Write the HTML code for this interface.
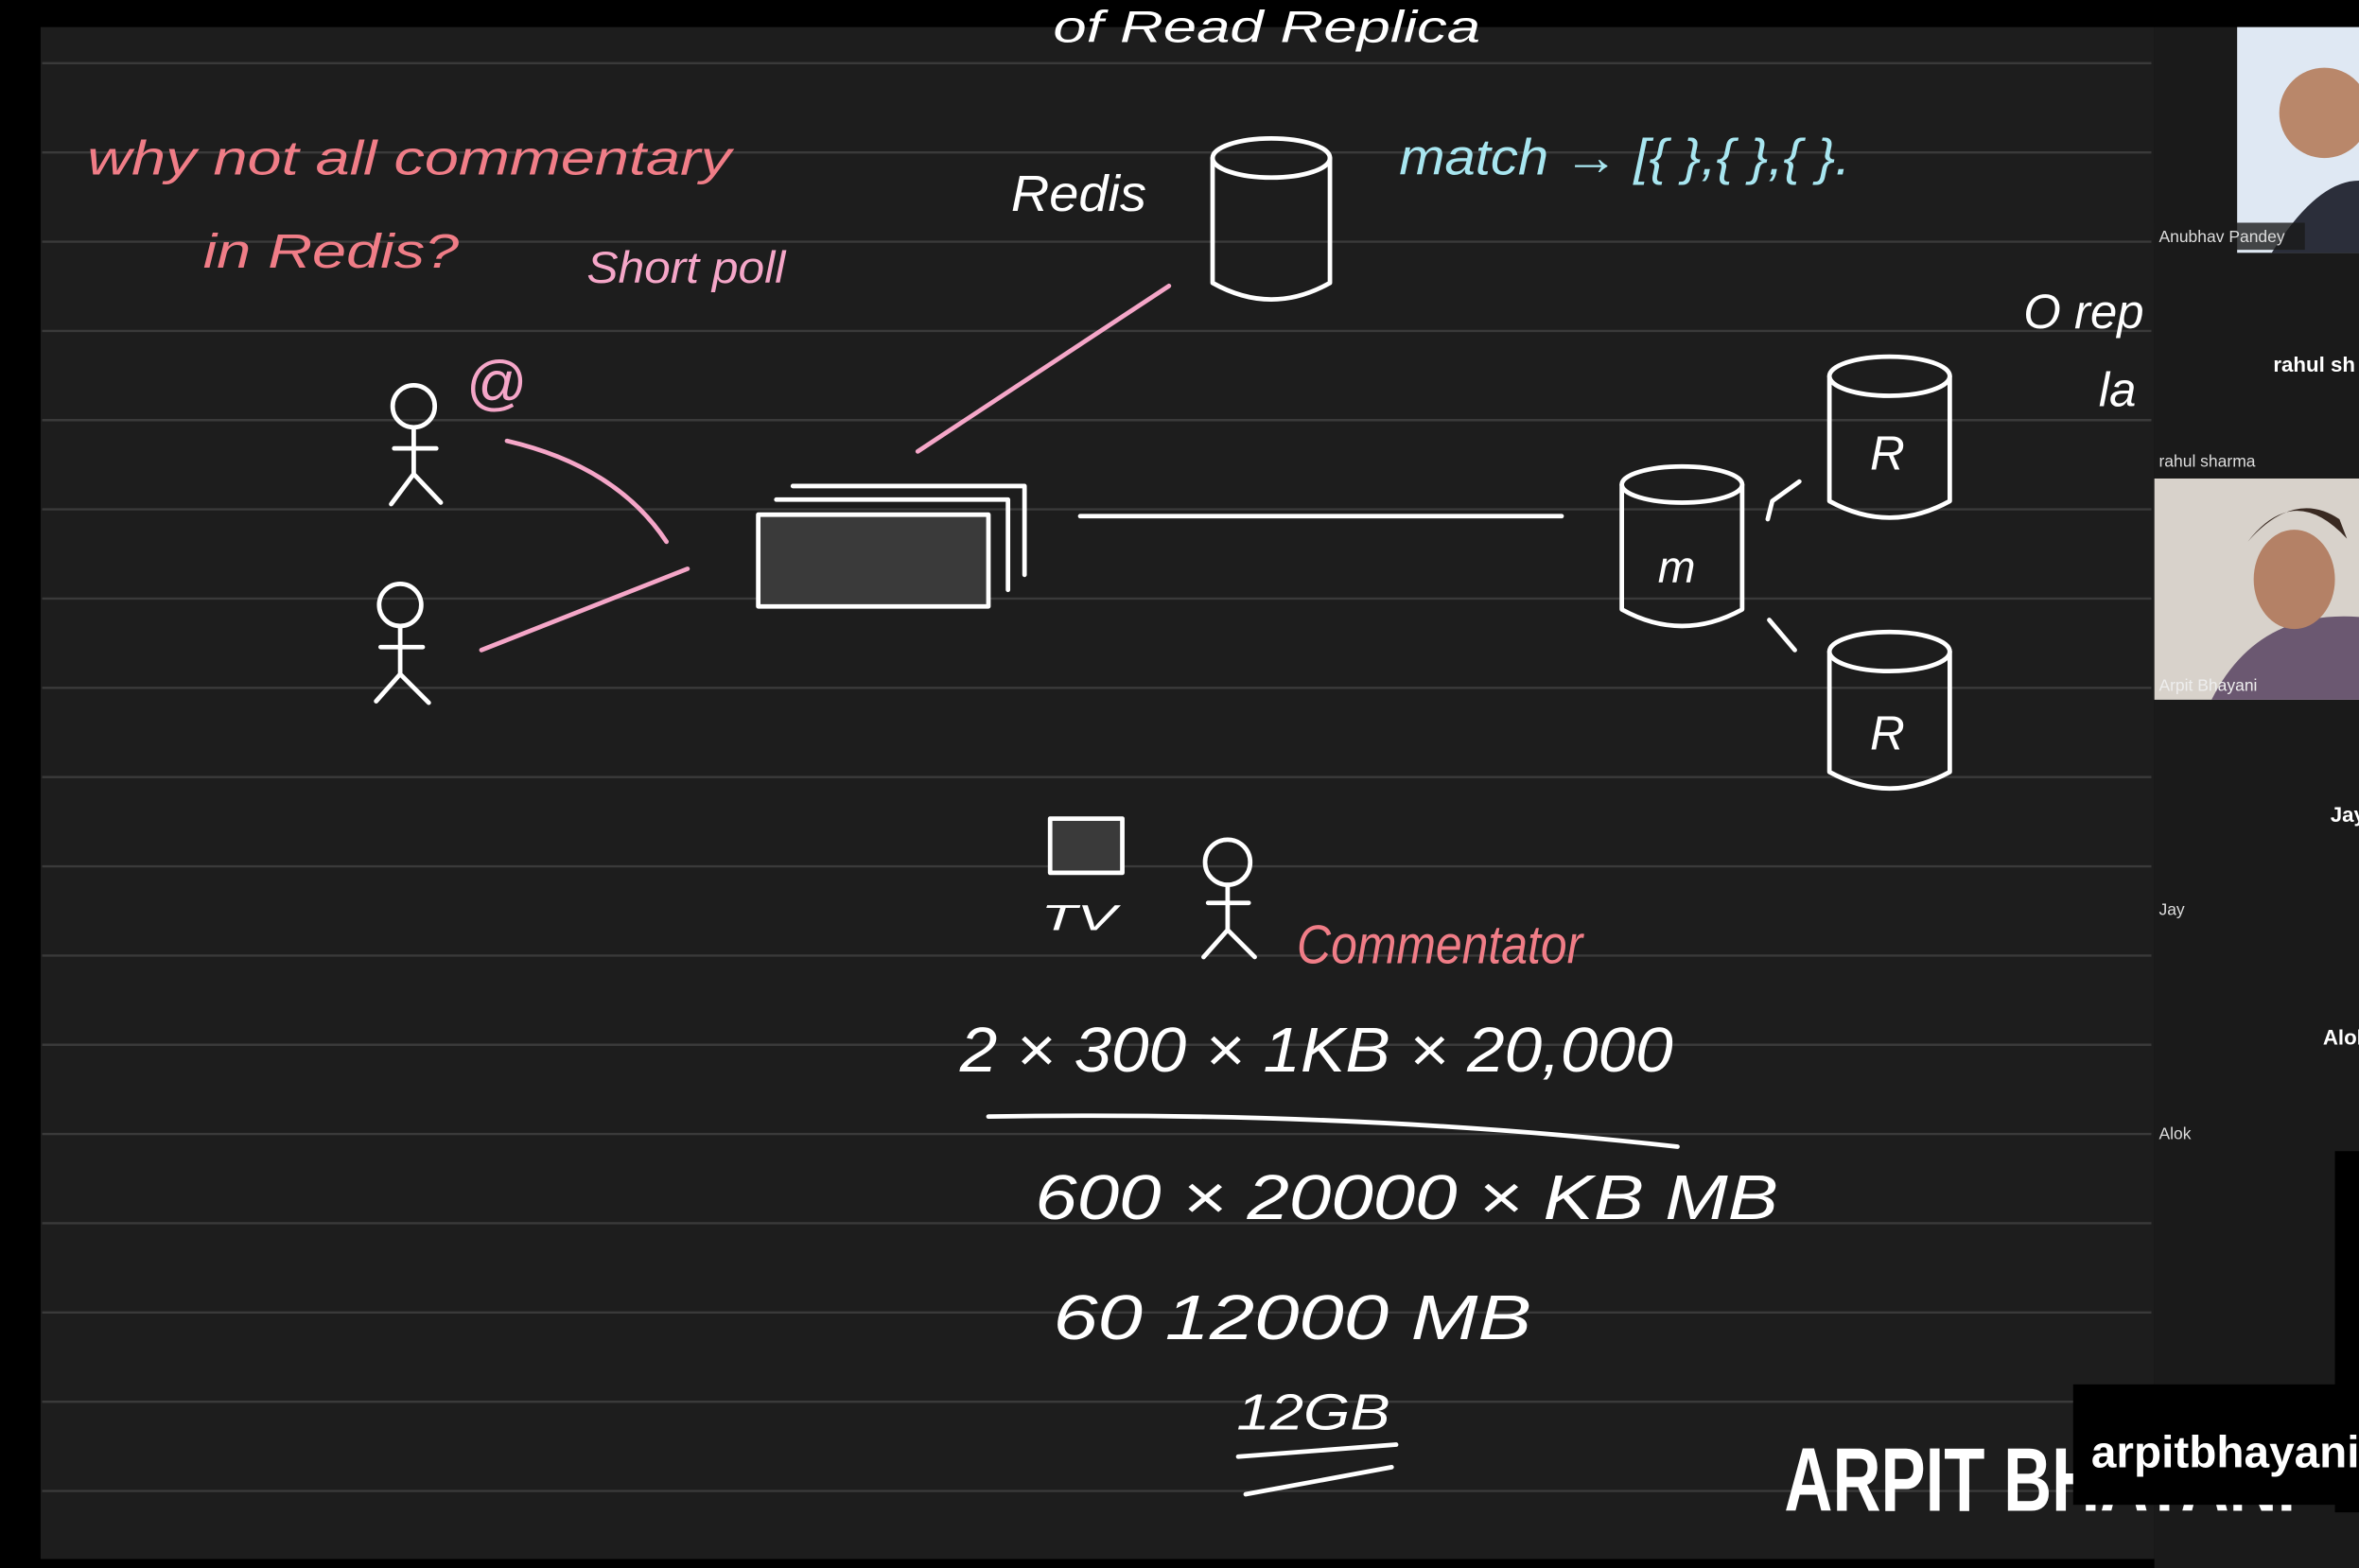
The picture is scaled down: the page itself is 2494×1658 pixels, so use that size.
<!DOCTYPE html>
<html><head><meta charset="utf-8"><style>
html,body{margin:0;padding:0;background:#000;}
svg{display:block;}
text{font-family:"Liberation Sans",sans-serif;}
</style></head><body>
<svg width="2494" height="1658" viewBox="0 0 1568 1042" preserveAspectRatio="none" xmlns="http://www.w3.org/2000/svg">
<rect width="1568" height="1042" fill="#000"/>
<rect x="27" y="18" width="1405" height="1018" fill="#1d1d1d"/>
<g id="rules" stroke="#3a3a3a" stroke-width="1.5"></g>
<script>
var g=document.getElementById('rules');
for(var y=42;y<1000;y+=59.3){var l=document.createElementNS('http://www.w3.org/2000/svg','line');


l.setAttribute('x1',28);l.setAttribute('x2',1430);l.setAttribute('y1',y);l.setAttribute('y2',y);g.appendChild(l);}
</script>
<g fill="none" stroke-linecap="round" stroke-linejoin="round">
<text x="58" y="116" fill="#f07d87" font-size="32" font-style="italic" font-family="Liberation Serif" textLength="428" lengthAdjust="spacingAndGlyphs">why not all commentary</text>
<text x="135" y="178" fill="#f07d87" font-size="32" font-style="italic" font-family="Liberation Serif" textLength="170" lengthAdjust="spacingAndGlyphs">in Redis?</text>
<text x="390" y="188" fill="#f5a6c8" font-size="30" font-style="italic" font-family="Liberation Serif" textLength="132" lengthAdjust="spacingAndGlyphs">Short poll</text>
<text x="310" y="268" fill="#f5a6c8" font-size="40">@</text>
<text x="700" y="28" fill="#fff" font-size="30" font-family="Liberation Serif" font-style="italic" textLength="284" lengthAdjust="spacingAndGlyphs">of Read Replica</text>
<text x="672" y="140" fill="#fff" font-size="34" font-family="Liberation Serif" font-style="italic" textLength="90" lengthAdjust="spacingAndGlyphs">Redis</text>
<text x="930" y="116" fill="#a8e6f0" font-size="34" font-family="Liberation Serif" font-style="italic" textLength="300" lengthAdjust="spacingAndGlyphs">match → [{  },{  },{  }.</text>
<text x="1345" y="218" fill="#fff" font-size="32" font-style="italic" font-family="Liberation Serif">O rep</text>
<text x="1395" y="270" fill="#fff" font-size="32" font-style="italic" font-family="Liberation Serif">la</text>
<g stroke="#fff" stroke-width="3">
<ellipse cx="845" cy="105" rx="39" ry="13"/><path d="M806 105 V188 Q845 210 884 188 V105"/></g>
<line x1="610" y1="300" x2="777" y2="190" stroke="#f5a6c8" stroke-width="3"/>
<g stroke="#fff" stroke-width="3"><circle cx="275" cy="270" r="14"/><path d="M275 284 V315 M262 298 H290 M275 315 L260 335 M275 315 L293 334"/></g>
<g stroke="#fff" stroke-width="3"><circle cx="266" cy="402" r="14"/><path d="M266 416 V448 M253 430 H281 M266 448 L250 466 M266 448 L285 467"/></g>
<path d="M337 293 Q410 310 443 360" stroke="#f5a6c8" stroke-width="3"/>
<line x1="320" y1="432" x2="457" y2="378" stroke="#f5a6c8" stroke-width="3"/>
<g stroke="#fff" stroke-width="3">
<path d="M527 323 H681 V382"/><path d="M516 332 H670 V392"/>
<rect x="504" y="342" width="153" height="61" fill="#3a3a3a"/></g>
<line x1="718" y1="343" x2="1038" y2="343" stroke="#fff" stroke-width="3"/>
<g stroke="#fff" stroke-width="3">
<ellipse cx="1118" cy="322" rx="40" ry="12"/><path d="M1078 322 V405 Q1118 427 1158 405 V322"/></g>
<text x="1102" y="387" fill="#fff" font-size="30" font-style="italic" font-family="Liberation Serif">m</text>
<g stroke="#fff" stroke-width="3">
<ellipse cx="1256" cy="250" rx="40" ry="13"/><path d="M1216 250 V333 Q1256 355 1296 333 V250"/></g>
<text x="1243" y="312" fill="#fff" font-size="32" font-style="italic" font-family="Liberation Serif">R</text>
<g stroke="#fff" stroke-width="3">
<ellipse cx="1256" cy="433" rx="40" ry="13"/><path d="M1216 433 V513 Q1256 535 1296 513 V433"/></g>
<text x="1243" y="498" fill="#fff" font-size="32" font-style="italic" font-family="Liberation Serif">R</text>
<path d="M1175 345 L1178 333 L1196 320 M1176 412 L1193 432" stroke="#fff" stroke-width="3"/>
<rect x="698" y="544" width="48" height="36" stroke="#fff" stroke-width="3" fill="#3a3a3a"/>
<text x="692" y="618" fill="#fff" font-size="24" font-style="italic" textLength="50" lengthAdjust="spacingAndGlyphs">TV</text>
<g stroke="#fff" stroke-width="3"><circle cx="816" cy="573" r="15"/><path d="M816 588 V618 M803 600 H830 M816 618 L800 636 M816 618 L834 636"/></g>
<text x="862" y="640" fill="#f07d87" font-size="36" font-style="italic" font-family="Liberation Serif" textLength="190" lengthAdjust="spacingAndGlyphs">Commentator</text>
<text x="638" y="712" fill="#fff" font-size="42" font-family="Liberation Serif" font-style="italic" textLength="474" lengthAdjust="spacingAndGlyphs">2 × 300 × 1KB × 20,000</text>
<path d="M657 742 Q900 738 1115 762" stroke="#fff" stroke-width="3"/>
<text x="688" y="810" fill="#fff" font-size="42" font-family="Liberation Serif" font-style="italic" textLength="494" lengthAdjust="spacingAndGlyphs">600 × 20000 × KB MB</text>
<text x="700" y="890" fill="#fff" font-size="42" font-family="Liberation Serif" font-style="italic" textLength="318" lengthAdjust="spacingAndGlyphs">60  12000 MB</text>
<text x="822" y="950" fill="#fff" font-size="34" font-family="Liberation Serif" font-style="italic" textLength="102" lengthAdjust="spacingAndGlyphs">12GB</text>
<path d="M823 968 L928 960 M828 993 L925 975" stroke="#fff" stroke-width="3"/>
</g>
<rect x="1432" y="18" width="136" height="1024" fill="#1a1a1a"/>
<rect x="1487" y="18" width="81" height="150" fill="#dfe8f3"/>
<circle cx="1545" cy="75" r="30" fill="#b9876a"/><path d="M1510 168 Q1540 120 1568 120 V168Z" fill="#2b2e3a"/>
<rect x="1432" y="148" width="100" height="18" fill="#1a1a1a" opacity="0.8"/>
<text x="1435" y="161" fill="#ddd" font-size="11">Anubhav Pandey</text>
<text x="1511" y="247" fill="#fff" font-size="14" font-weight="bold">rahul sh</text>
<text x="1435" y="310" fill="#ddd" font-size="11">rahul sharma</text>
<rect x="1432" y="318" width="136" height="147" fill="#d8d2cb"/>
<path d="M1470 465 Q1500 405 1568 410 V465Z" fill="#6b5871"/><ellipse cx="1525" cy="385" rx="27" ry="33" fill="#b48166"/><path d="M1494 360 Q1525 320 1560 358 L1555 345 Q1525 325 1494 360Z" fill="#3a2a22"/>
<text x="1435" y="459" fill="#eee" font-size="11">Arpit Bhayani</text>
<text x="1549" y="546" fill="#fff" font-size="14" font-weight="bold">Jay</text>
<text x="1435" y="608" fill="#ddd" font-size="11">Jay</text>
<text x="1544" y="694" fill="#fff" font-size="14" font-weight="bold">Alok</text>
<text x="1435" y="757" fill="#ddd" font-size="11">Alok</text>
<rect x="1552" y="765" width="16" height="240" fill="#000"/>
<text x="1186" y="1004" fill="#fff" font-size="60" font-weight="bold" textLength="340" lengthAdjust="spacingAndGlyphs">ARPIT BHAYANI</text>
<rect x="1378" y="920" width="190" height="80" fill="#000"/>
<text x="1390" y="975" fill="#fff" font-size="30" font-weight="bold">arpitbhayani</text>
</svg>
</body></html>
